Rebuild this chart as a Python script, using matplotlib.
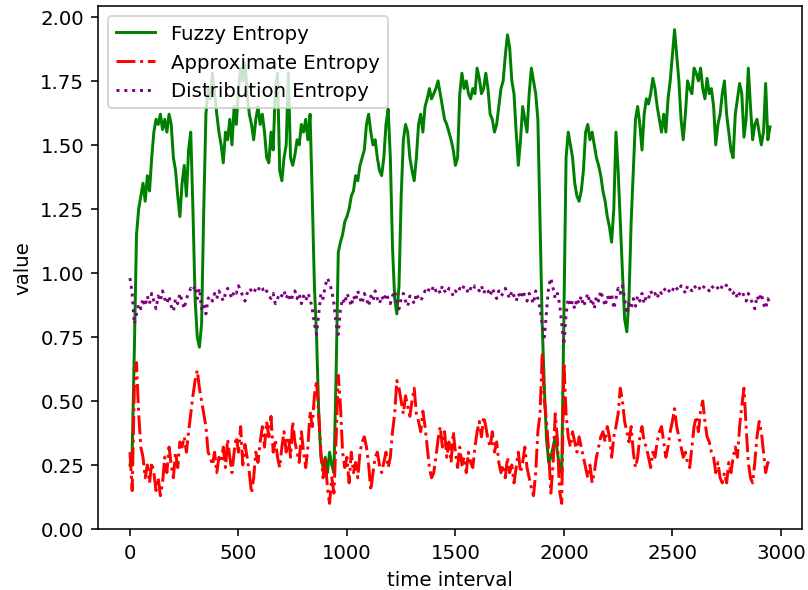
import numpy as np
import matplotlib
matplotlib.use("Agg")
import matplotlib.pyplot as plt

fuzzy_entropy = [
    0.25, 0.30, 0.70, 1.15, 1.25, 1.30, 1.35, 1.28, 1.38, 1.32,
    1.45, 1.55, 1.60, 1.58, 1.62, 1.56, 1.60, 1.55, 1.62, 1.58,
    1.45, 1.40, 1.30, 1.22, 1.35, 1.42, 1.30, 1.48, 1.55, 1.25,
    0.90, 0.75, 0.71, 0.80, 1.25, 1.62, 1.72, 1.68, 1.78, 1.70,
    1.62, 1.55, 1.50, 1.43, 1.55, 1.52, 1.60, 1.50, 1.65, 1.58,
    1.72, 1.80, 1.75, 1.82, 1.70, 1.62, 1.58, 1.52, 1.60, 1.65,
    1.58, 1.62, 1.55, 1.45, 1.43, 1.55, 1.48, 1.72, 1.78, 1.40,
    1.36, 1.45, 1.50, 1.78, 1.45, 1.42, 1.46, 1.52, 1.50, 1.58,
    1.55, 1.60, 1.52, 1.62, 1.30, 0.95, 0.75, 0.45, 0.28, 0.24,
    0.28, 0.22, 0.30, 0.25, 0.22, 0.60, 1.08, 1.12, 1.15, 1.20,
    1.22, 1.25, 1.30, 1.32, 1.38, 1.36, 1.42, 1.45, 1.48, 1.58,
    1.62, 1.55, 1.50, 1.52, 1.45, 1.40, 1.38, 1.45, 1.58, 1.64,
    1.45, 1.10, 0.90, 0.84, 0.95, 1.30, 1.52, 1.58, 1.55, 1.45,
    1.40, 1.36, 1.45, 1.58, 1.62, 1.55, 1.65, 1.68, 1.72, 1.68,
    1.70, 1.72, 1.75, 1.70, 1.65, 1.60, 1.58, 1.55, 1.52, 1.48,
    1.42, 1.45, 1.70, 1.78, 1.72, 1.75, 1.70, 1.68, 1.72, 1.70,
    1.80, 1.76, 1.70, 1.72, 1.78, 1.72, 1.62, 1.60, 1.55, 1.58,
    1.65, 1.72, 1.75, 1.85, 1.93, 1.88, 1.75, 1.70, 1.55, 1.42,
    1.52, 1.65, 1.60, 1.55, 1.70, 1.80, 1.75, 1.70, 1.60, 1.20,
    0.80, 0.55, 0.35, 0.26, 0.28, 0.32, 0.36, 0.30, 0.24, 0.22,
    0.85, 1.45, 1.55, 1.50, 1.45, 1.35, 1.30, 1.28, 1.32, 1.40,
    1.55, 1.58, 1.52, 1.55, 1.50, 1.45, 1.42, 1.38, 1.32, 1.28,
    1.22, 1.18, 1.12, 1.25, 1.55, 1.40, 1.20, 1.00, 0.82, 0.77,
    0.90, 1.20, 1.40, 1.60, 1.65, 1.58, 1.48, 1.62, 1.68, 1.66,
    1.70, 1.76, 1.72, 1.65, 1.60, 1.55, 1.62, 1.55, 1.68, 1.75,
    1.85, 1.95, 1.85, 1.75, 1.60, 1.52, 1.62, 1.75, 1.72, 1.70,
    1.80, 1.78, 1.75, 1.80, 1.72, 1.68, 1.76, 1.70, 1.72, 1.65,
    1.50, 1.58, 1.62, 1.70, 1.75, 1.62, 1.55, 1.48, 1.45, 1.62,
    1.68, 1.74, 1.70, 1.53, 1.60, 1.80, 1.65, 1.52, 1.58, 1.60,
    1.55, 1.50, 1.55, 1.74, 1.52, 1.57,
]

approximate_entropy = [
    0.30, 0.15, 0.55, 0.65, 0.45, 0.32, 0.28, 0.20, 0.25, 0.18,
    0.26, 0.22, 0.15, 0.20, 0.13, 0.18, 0.28, 0.22, 0.32, 0.25,
    0.20, 0.30, 0.24, 0.34, 0.32, 0.36, 0.30, 0.38, 0.45, 0.52,
    0.58, 0.62, 0.55, 0.50, 0.45, 0.40, 0.30, 0.28, 0.25, 0.30,
    0.22, 0.28, 0.26, 0.32, 0.24, 0.35, 0.28, 0.22, 0.30, 0.36,
    0.30, 0.40, 0.25, 0.33, 0.28, 0.22, 0.14, 0.20, 0.30, 0.26,
    0.34, 0.40, 0.32, 0.42, 0.36, 0.44, 0.30, 0.35, 0.28, 0.24,
    0.32, 0.38, 0.30, 0.36, 0.28, 0.42, 0.34, 0.30, 0.26, 0.38,
    0.30, 0.24, 0.32, 0.46, 0.40, 0.52, 0.58, 0.45, 0.30, 0.20,
    0.28, 0.16, 0.10, 0.20, 0.14, 0.35, 0.60, 0.48, 0.30, 0.24,
    0.28, 0.18, 0.30, 0.22, 0.26, 0.20, 0.30, 0.34, 0.36, 0.32,
    0.25, 0.15, 0.22, 0.28, 0.30, 0.25, 0.22, 0.26, 0.30, 0.24,
    0.28, 0.38, 0.45, 0.58, 0.55, 0.50, 0.45, 0.52, 0.48, 0.44,
    0.50, 0.55, 0.45, 0.42, 0.38, 0.46, 0.40, 0.32, 0.24, 0.20,
    0.22, 0.28, 0.35, 0.40, 0.32, 0.38, 0.28, 0.34, 0.26, 0.38,
    0.30, 0.24, 0.32, 0.25, 0.28, 0.22, 0.30, 0.26, 0.24, 0.32,
    0.38, 0.42, 0.36, 0.44, 0.40, 0.35, 0.32, 0.38, 0.30, 0.34,
    0.26, 0.22, 0.25, 0.20, 0.28, 0.22, 0.25, 0.18, 0.24, 0.30,
    0.22, 0.26, 0.32, 0.24, 0.20, 0.16, 0.13, 0.22, 0.38, 0.45,
    0.68, 0.50, 0.42, 0.30, 0.14, 0.25, 0.45, 0.35, 0.15, 0.10,
    0.65, 0.45, 0.36, 0.32, 0.38, 0.34, 0.30, 0.36, 0.32, 0.28,
    0.24, 0.20, 0.25, 0.18, 0.22, 0.28, 0.32, 0.36, 0.38, 0.34,
    0.40, 0.36, 0.28, 0.36, 0.40, 0.45, 0.55, 0.50, 0.42, 0.38,
    0.34, 0.40, 0.30, 0.24, 0.28, 0.36, 0.40, 0.34, 0.32, 0.28,
    0.24, 0.30, 0.28, 0.34, 0.38, 0.40, 0.34, 0.28, 0.32, 0.38,
    0.42, 0.47, 0.40, 0.36, 0.32, 0.28, 0.30, 0.26, 0.24, 0.32,
    0.40, 0.44, 0.38, 0.46, 0.50, 0.42, 0.36, 0.34, 0.30, 0.28,
    0.22, 0.26, 0.20, 0.18, 0.22, 0.18, 0.26, 0.22, 0.28, 0.32,
    0.28, 0.40, 0.48, 0.55, 0.40, 0.26, 0.20, 0.18, 0.26, 0.36,
    0.42, 0.38, 0.30, 0.22, 0.26, 0.24,
]

distribution_entropy = [
    0.98, 0.92, 0.80, 0.84, 0.88, 0.86, 0.90, 0.87, 0.91, 0.88,
    0.92, 0.89, 0.86, 0.91, 0.89, 0.93, 0.90, 0.88, 0.91, 0.87,
    0.85, 0.90, 0.88, 0.92, 0.89, 0.86, 0.90, 0.92, 0.94, 0.93,
    0.95, 0.90, 0.94, 0.86, 0.88, 0.84, 0.90, 0.91, 0.89, 0.92,
    0.90, 0.93, 0.91, 0.89, 0.92, 0.94, 0.92, 0.90, 0.93, 0.92,
    0.95, 0.93, 0.91, 0.89, 0.92, 0.94, 0.93, 0.92, 0.94, 0.93,
    0.95, 0.94, 0.92, 0.93, 0.91, 0.90, 0.92, 0.88, 0.90, 0.92,
    0.91, 0.93, 0.90, 0.92, 0.89, 0.91, 0.93, 0.90, 0.92, 0.88,
    0.91, 0.89, 0.92, 0.90, 0.86, 0.80, 0.76, 0.84, 0.92, 0.90,
    0.95, 0.98, 0.96, 0.93, 0.88, 0.80, 0.76, 0.86, 0.90, 0.88,
    0.92, 0.90, 0.87, 0.91, 0.89, 0.93, 0.90, 0.88, 0.92, 0.90,
    0.87, 0.91, 0.89, 0.93, 0.90, 0.88, 0.91, 0.89, 0.92, 0.90,
    0.88, 0.91, 0.93, 0.89, 0.86, 0.90, 0.92, 0.89, 0.87, 0.91,
    0.90, 0.88, 0.92, 0.90, 0.89, 0.91, 0.93, 0.92, 0.94, 0.93,
    0.95, 0.93, 0.94, 0.92, 0.95, 0.93, 0.92, 0.94, 0.93, 0.91,
    0.93, 0.92, 0.94, 0.93, 0.95, 0.94, 0.92, 0.94, 0.93, 0.95,
    0.94, 0.93, 0.95, 0.92, 0.94, 0.93, 0.91, 0.94, 0.92, 0.90,
    0.93, 0.91, 0.92, 0.94, 0.92, 0.90, 0.93, 0.91, 0.89, 0.92,
    0.90, 0.93, 0.91, 0.89, 0.92, 0.90, 0.88, 0.93, 0.90, 0.86,
    0.80, 0.75, 0.85, 0.95, 0.98, 0.94, 0.90, 0.92, 0.88, 0.80,
    0.72, 0.84, 0.90, 0.87, 0.89, 0.86, 0.90, 0.88, 0.91, 0.87,
    0.89, 0.92, 0.88, 0.90, 0.86, 0.91, 0.89, 0.93, 0.90, 0.87,
    0.91, 0.89, 0.92, 0.86, 0.90, 0.94, 0.92, 0.95, 0.90, 0.84,
    0.88, 0.86, 0.90, 0.87, 0.91, 0.89, 0.92, 0.88, 0.91, 0.90,
    0.93, 0.91, 0.92, 0.90, 0.93, 0.92, 0.94, 0.93, 0.92, 0.94,
    0.93, 0.95, 0.94, 0.93, 0.95, 0.94, 0.92, 0.95, 0.94, 0.93,
    0.95, 0.94, 0.95, 0.93, 0.94, 0.95, 0.94, 0.93, 0.95, 0.94,
    0.95, 0.94, 0.93, 0.95, 0.96, 0.95, 0.93, 0.94, 0.92, 0.93,
    0.90, 0.92, 0.93, 0.91, 0.89, 0.92, 0.90, 0.88, 0.86, 0.91,
    0.89, 0.92, 0.88, 0.86, 0.90, 0.88,
]

STEP = 10
t_fe = np.arange(len(fuzzy_entropy)) * STEP
t_ae = np.arange(len(approximate_entropy)) * STEP
t_de = np.arange(len(distribution_entropy)) * STEP

DPI = 142
fig = plt.figure(figsize=(808 / DPI, 591 / DPI), dpi=DPI)
ax = fig.add_axes([98 / 808, 61 / 591, 704 / 808, 523 / 591])

ax.plot(t_fe, fuzzy_entropy, color="green", linestyle="-", label="Fuzzy Entropy")
ax.plot(t_ae, approximate_entropy, color="red", linestyle="-.", label="Approximate Entropy")
ax.plot(t_de, distribution_entropy, color="purple", linestyle=":", label="Distribution Entropy")

ax.set_xlabel("time interval")
ax.set_ylabel("value")
ax.set_yticks([0.0, 0.25, 0.5, 0.75, 1.0, 1.25, 1.5, 1.75, 2.0])
ax.legend(loc="upper left")

fig.savefig("out.png", dpi=DPI)
